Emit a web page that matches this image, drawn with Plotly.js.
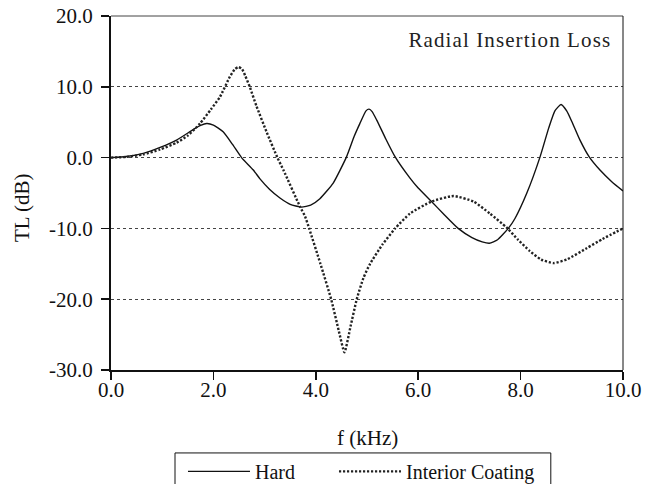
<!DOCTYPE html>
<html>
<head>
<meta charset="utf-8">
<script src="https://cdn.plot.ly/plotly-3.0.1.min.js"></script>
<style>
  html, body { margin: 0; padding: 0; background: #fff; }
  #chart { width: 645px; height: 484px; }
  g.annotation[data-index="0"] text { letter-spacing: 1.1px; }
</style>
</head>
<body>
<div id="chart"></div>
<script>
// Hard wall
const hardFreq = [0.0, 0.3, 0.63, 0.96, 1.28, 1.61, 1.75, 1.87, 2.0, 2.19, 2.37, 2.55, 2.78, 2.91, 3.1, 3.3, 3.5, 3.72, 3.9, 4.08, 4.34, 4.6, 4.75, 4.86, 4.98, 5.04, 5.1, 5.19, 5.37, 5.55, 5.84, 6.0, 6.26, 6.5, 6.78, 7.05, 7.25, 7.39, 7.55, 7.76, 7.89, 8.12, 8.38, 8.55, 8.67, 8.79, 8.9, 9.0, 9.16, 9.34, 9.55, 9.78, 10.0];
const hardTL   = [0.0, 0.15, 0.59, 1.44, 2.47, 3.98, 4.55, 4.82, 4.6, 3.64, 1.9, 0.0, -1.76, -3.0, -4.5, -5.7, -6.6, -7.0, -6.7, -5.8, -3.6, 0.1, 3.0, 4.8, 6.6, 6.84, 6.5, 5.3, 2.6, 0.1, -2.9, -4.3, -6.2, -8.0, -10.0, -11.3, -11.9, -12.1, -11.6, -10.0, -8.6, -5.05, 0.1, 4.2, 6.6, 7.5, 6.6, 5.1, 2.47, 0.1, -1.76, -3.4, -4.7];

// Interior coating
const coatFreq = [0.0, 0.3, 0.63, 0.96, 1.28, 1.5, 1.74, 1.95, 2.13, 2.32, 2.42, 2.49, 2.56, 2.62, 2.71, 2.84, 3.04, 3.25, 3.37, 3.69, 3.79, 3.87, 4.09, 4.3, 4.45, 4.56, 4.68, 4.8, 4.93, 5.06, 5.3, 5.55, 5.84, 6.26, 6.69, 7.08, 7.4, 7.73, 7.95, 8.18, 8.4, 8.64, 8.9, 9.29, 9.6, 10.0];
const coatTL   = [0.0, 0.1, 0.45, 1.15, 2.1, 3.1, 4.82, 6.8, 8.6, 11.4, 12.5, 12.8, 12.5, 11.6, 10.0, 7.3, 3.6, 0.0, -1.8, -6.9, -8.3, -10.0, -15.0, -20.0, -24.5, -27.5, -23.8, -20.0, -17.0, -15.0, -12.3, -10.0, -7.9, -6.2, -5.43, -6.2, -7.9, -9.9, -11.6, -13.2, -14.4, -14.9, -14.4, -12.8, -11.5, -10.0];

const seriesNames = ["Hard", "Interior Coating"];
const xTickVals = [0, 2, 4, 6, 8, 10];
const xTickText = ["0.0", "2.0", "4.0", "6.0", "8.0", "10.0"];
const yTickVals = [-30, -20, -10, 0, 10, 20];
const yTickText = ["-30.0", "-20.0", "-10.0", "0.0", "10.0", "20.0"];

const FONT = "Liberation Serif, Times New Roman, serif";

const traces = [
  {
    x: hardFreq, y: hardTL, name: seriesNames[0], legend: "legend", type: "scatter", mode: "lines",
    line: { color: "#111", width: 1.4, shape: "spline", smoothing: 0.5 }
  },
  {
    x: coatFreq, y: coatTL, name: seriesNames[1], legend: "legend2", type: "scatter", mode: "lines",
    line: { color: "#222", width: 2.4, dash: "2.2px,1.8px", shape: "spline", smoothing: 0.5 }
  }
];

const legendCommon = {
  orientation: "h", y: -0.2314, xanchor: "left", yanchor: "top",
  borderwidth: 0, bgcolor: "rgba(0,0,0,0)",
  font: { family: FONT, size: 20, color: "#111" },
  itemwidth: 62
};

const layout = {
  width: 645, height: 484,
  margin: { l: 111, r: 22, t: 16, b: 114, autoexpand: false },
  paper_bgcolor: "#fff", plot_bgcolor: "#fff",
  showlegend: true,
  font: { family: FONT, size: 21, color: "#111" },
  xaxis: {
    range: [0, 10], tickvals: xTickVals, ticktext: xTickText,
    ticks: "outside", ticklen: 8, tickwidth: 1.5, tickcolor: "#111",
    showline: true, linewidth: 2, linecolor: "#111",
    showgrid: false, zeroline: false, fixedrange: true, automargin: false,
    ticklabelstandoff: -8,
    tickfont: { family: FONT, size: 21, color: "#111" }
  },
  yaxis: {
    range: [-30, 20], tickvals: yTickVals, ticktext: yTickText,
    ticks: "outside", ticklen: 8, tickwidth: 1.5, tickcolor: "#111",
    showline: true, linewidth: 2, linecolor: "#111",
    showgrid: true, gridcolor: "#444", gridwidth: 1, griddash: "3px,3px",
    zeroline: false, fixedrange: true, automargin: false, ticklabelstandoff: 4,
    tickfont: { family: FONT, size: 21, color: "#111" }
  },
  legend: Object.assign({}, legendCommon, { x: 0.1406 }),
  legend2: Object.assign({}, legendCommon, { x: 0.4355 }),
  shapes: [
    { type: "line", xref: "paper", yref: "paper", x0: 0, x1: 1, y0: 1, y1: 1, line: { color: "#444", width: 1 } },
    { type: "line", xref: "paper", yref: "paper", x0: 1, x1: 1, y0: 0, y1: 1, line: { color: "#111", width: 1 } },
    { type: "rect", xref: "paper", yref: "paper", x0: 0.125, x1: 0.859, y0: -0.2343, y1: -0.34,
      line: { color: "#111", width: 1 }, fillcolor: "rgba(0,0,0,0)" }
  ],
  annotations: [
    { text: "Radial Insertion Loss", xref: "paper", yref: "paper", x: 0.9594, y: 0.931,
      xanchor: "right", yanchor: "middle", showarrow: false,
      font: { family: FONT, size: 21, color: "#222" } },
    { text: "f (kHz)", xref: "paper", yref: "paper", x: 0.5, y: -0.192,
      xanchor: "center", yanchor: "middle", showarrow: false,
      font: { family: FONT, size: 21, color: "#111" } },
    { text: "TL (dB)", xref: "paper", yref: "paper", x: -0.174, y: 0.46,
      xanchor: "center", yanchor: "middle", showarrow: false, textangle: -90,
      font: { family: FONT, size: 21, color: "#111" } }
  ]
};

Plotly.newPlot("chart", traces, layout, { staticPlot: true, displayModeBar: false });
</script>
</body>
</html>
